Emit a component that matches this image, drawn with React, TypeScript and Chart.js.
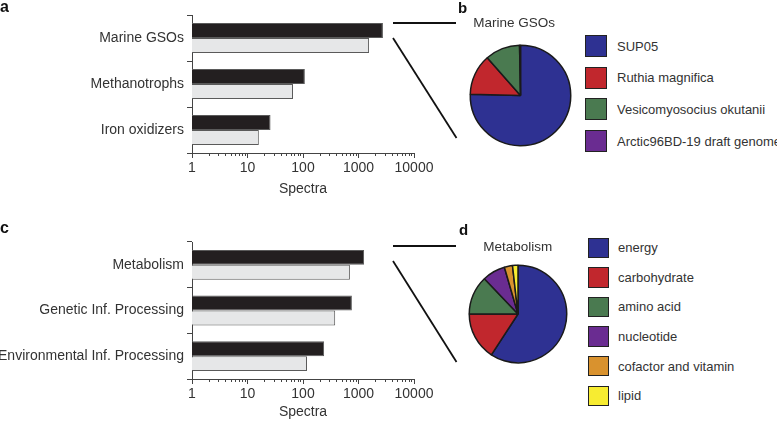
import React, { useEffect, useRef } from "react";
import { Chart, registerables } from "chart.js";

Chart.register(...registerables);

// ---------- data ----------
const organismCategories = ["Marine GSOs", "Methanotrophs", "Iron oxidizers"];
const organismDark = [2750, 108, 26];
const organismLight = [1550, 66, 16];

const pathwayCategories = ["Metabolism", "Genetic Inf. Processing", "Environmental Inf. Processing"];
const pathwayDark = [1260, 760, 240];
const pathwayLight = [700, 380, 118];

const xTickValues = [1, 10, 100, 1000, 10000];
const minorMultipliers = [2, 3, 4, 5, 6, 7, 8, 9];

const gsoLabels = ["SUP05", "Ruthia magnifica", "Vesicomyosocius okutanii", "Arctic96BD-19 draft genome"];
const gsoValues = [75.4, 13.1, 11.2, 0.3];
const gsoColors = ["#2e3192", "#c1272d", "#4a7a50", "#6a2c91"];

const metabolismLabels = ["energy", "carbohydrate", "amino acid", "nucleotide", "cofactor and vitamin", "lipid"];
const metabolismValues = [59.2, 15.8, 12.9, 7.6, 2.7, 1.8];
const metabolismColors = ["#2e3192", "#c1272d", "#4a7a50", "#6a2c91", "#d9922e", "#f7ec31"];

const FONT = "'Liberation Sans', Arial, Helvetica, sans-serif";
const TEXT = "#333333";
const AXIS = "#444444";

// ---------- bar panel ----------
type BarProps = {
  top: number;
  height: number;
  categories: string[];
  dark: number[];
  light: number[];
  areaTop: number;
  areaBottom: number;
  titlePad: number;
};

function BarPanel(p: BarProps) {
  const ref = useRef<HTMLCanvasElement | null>(null);
  useEffect(() => {
    if (!ref.current) return;
    const width = 440;
    const minorPlugin = {
      id: "minorTicks",
      afterDraw(chart: any) {
        const s = chart.scales.x;
        const ctx = chart.ctx;
        ctx.save();
        ctx.strokeStyle = AXIS;
        ctx.lineWidth = 1;
        for (let i = 0; i < xTickValues.length - 1; i++) {
          for (const m of minorMultipliers) {
            const px = Math.round(s.getPixelForValue(m * xTickValues[i])) + 0.5;
            ctx.beginPath();
            ctx.moveTo(px, s.top);
            ctx.lineTo(px, s.top + 3);
            ctx.stroke();
          }
        }
        ctx.restore();
      },
    };
    const chart = new Chart(ref.current, {
      type: "bar",
      data: {
        labels: p.categories,
        datasets: [
          {
            data: p.dark,
            backgroundColor: "#231f20",
            borderColor: "#5a5a5a",
            borderWidth: 1,
            categoryPercentage: 0.655,
            barPercentage: 1,
          },
          {
            data: p.light,
            backgroundColor: "#e6e7e8",
            borderColor: "#5a5a5a",
            borderWidth: 1,
            categoryPercentage: 0.655,
            barPercentage: 1,
          },
        ],
      },
      options: {
        indexAxis: "y",
        responsive: false,
        animation: false,
        events: [],
        layout: { padding: { top: p.areaTop, right: 26, left: 0, bottom: 0 } },
        plugins: { legend: { display: false }, tooltip: { enabled: false } },
        scales: {
          x: {
            type: "logarithmic",
            min: 1,
            max: 10000,
            afterBuildTicks: (scale: any) => {
              scale.ticks = xTickValues.map((v) => ({ value: v, major: true }));
            },
            afterFit: (scale: any) => {
              scale.height = p.height - p.areaBottom;
            },
            grid: { drawOnChartArea: false, drawTicks: true, tickLength: 5, color: AXIS, lineWidth: 1 },
            border: { display: true, color: AXIS, width: 1 },
            ticks: {
              autoSkip: false,
              maxRotation: 0,
              padding: 2,
              color: TEXT,
              font: { family: FONT, size: 14 },
              callback: (v: any) => String(v),
            },
            title: {
              display: true,
              text: "Spectra",
              color: TEXT,
              font: { family: FONT, size: 14 },
              padding: { top: 0, bottom: p.titlePad },
            },
          },
          y: {
            type: "category",
            afterFit: (scale: any) => {
              scale.width = 192;
            },
            grid: { drawOnChartArea: false, drawTicks: true, tickLength: 5, offset: true, color: AXIS, lineWidth: 1 },
            border: { display: true, color: AXIS, width: 1 },
            ticks: { padding: 3, color: TEXT, font: { family: FONT, size: 14 } },
          },
        },
      },
      plugins: [minorPlugin],
    } as any);
    return () => chart.destroy();
  }, []);
  return (
    <canvas
      ref={ref}
      width={440}
      height={p.height}
      style={{ position: "absolute", left: 0, top: p.top, width: 440, height: p.height }}
    />
  );
}

// ---------- pie panel ----------
type PieProps = {
  left: number;
  top: number;
  size: number;
  pad: number;
  labels: string[];
  values: number[];
  colors: string[];
};

function PiePanel(p: PieProps) {
  const ref = useRef<HTMLCanvasElement | null>(null);
  useEffect(() => {
    if (!ref.current) return;
    const chart = new Chart(ref.current, {
      type: "pie",
      data: {
        labels: p.labels,
        datasets: [
          {
            data: p.values,
            backgroundColor: p.colors,
            borderColor: "#1a1a1a",
            borderWidth: 1.5,
            hoverOffset: 0,
            offset: 0,
          },
        ],
      },
      options: {
        responsive: false,
        animation: false,
        events: [],
        layout: { padding: p.pad },
        plugins: { legend: { display: false }, tooltip: { enabled: false } },
      },
    } as any);
    return () => chart.destroy();
  }, []);
  return (
    <canvas
      ref={ref}
      width={p.size}
      height={p.size}
      style={{ position: "absolute", left: p.left, top: p.top, width: p.size, height: p.size }}
    />
  );
}

// ---------- legend ----------
type LegendProps = {
  left: number;
  top: number;
  step: number;
  box: number;
  textLeft: number;
  labels: string[];
  colors: string[];
};

function Legend(p: LegendProps) {
  return (
    <>
      {p.labels.map((l, i) => (
        <div
          key={l}
          style={{
            position: "absolute",
            left: p.left,
            top: p.top + i * p.step,
            height: p.box,
            display: "flex",
            alignItems: "center",
            whiteSpace: "nowrap",
          }}
        >
          <div
            style={{
              width: p.box,
              height: p.box,
              boxSizing: "border-box",
              border: "1.5px solid #222",
              background: p.colors[i],
              flex: "none",
            }}
          />
          <span
            style={{
              marginLeft: p.textLeft - p.left - p.box,
              fontFamily: FONT,
              fontSize: 13,
              color: TEXT,
            }}
          >
            {l}
          </span>
        </div>
      ))}
    </>
  );
}

function Txt(props: { x: number; baseline: number; size: number; bold?: boolean; center?: boolean; children: React.ReactNode }) {
  const top = props.baseline - 0.8465 * props.size;
  const style: React.CSSProperties = {
    position: "absolute",
    top,
    fontFamily: FONT,
    fontSize: props.size,
    lineHeight: props.size + "px",
    fontWeight: props.bold ? "bold" : "normal",
    color: props.bold ? "#111" : TEXT,
    whiteSpace: "nowrap",
  };
  if (props.center) {
    style.left = props.x - 100;
    style.width = 200;
    style.textAlign = "center";
  } else {
    style.left = props.x;
  }
  return <div style={style}>{props.children}</div>;
}

export default function App() {
  return (
    <div style={{ position: "absolute", left: 0, top: 0, width: 777, height: 422, background: "#fff", overflow: "hidden" }}>
      <BarPanel
        top={0}
        height={200}
        categories={organismCategories}
        dark={organismDark}
        light={organismLight}
        areaTop={15}
        areaBottom={153}
        titlePad={2}
      />
      <BarPanel
        top={200}
        height={222}
        categories={pathwayCategories}
        dark={pathwayDark}
        light={pathwayLight}
        areaTop={42}
        areaBottom={179}
        titlePad={1}
      />
      <PiePanel left={465} top={40} size={111} pad={4.5} labels={gsoLabels} values={gsoValues} colors={gsoColors} />
      <PiePanel left={463} top={259} size={110} pad={5.5} labels={metabolismLabels} values={metabolismValues} colors={metabolismColors} />
      <Legend left={585} top={35} step={31.67} box={22} textLeft={617} labels={gsoLabels} colors={gsoColors} />
      <Legend left={588} top={237.5} step={29.6} box={20.5} textLeft={618} labels={metabolismLabels} colors={metabolismColors} />
      <Txt x={0} baseline={13} size={16} bold>a</Txt>
      <Txt x={458} baseline={13} size={15} bold>b</Txt>
      <Txt x={0} baseline={234} size={16} bold>c</Txt>
      <Txt x={459} baseline={235} size={15} bold>d</Txt>
      <Txt x={514.2} baseline={27.5} size={13.5} center>Marine GSOs</Txt>
      <Txt x={517.8} baseline={251.8} size={13.5} center>Metabolism</Txt>
      <svg width={777} height={422} style={{ position: "absolute", left: 0, top: 0, pointerEvents: "none" }}>
        <g stroke="#111" strokeWidth={1.8} fill="none">
          <line x1={393} y1={23} x2={456} y2={23} />
          <line x1={393} y1={38} x2={456.5} y2={138} />
          <line x1={393} y1={246} x2={456} y2={246} />
          <line x1={393} y1={261} x2={456.5} y2={362} />
        </g>
      </svg>
    </div>
  );
}
